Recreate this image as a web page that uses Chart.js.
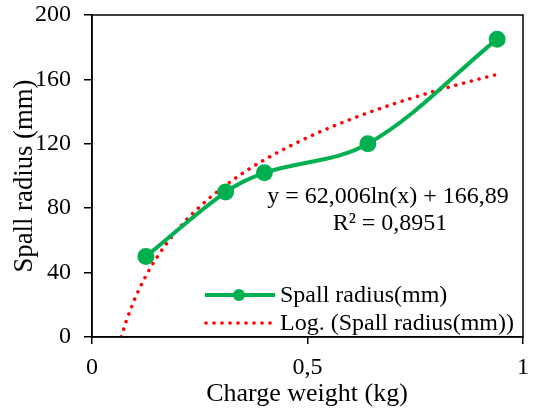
<!DOCTYPE html>
<html><head><meta charset="utf-8">
<script src="https://cdn.jsdelivr.net/npm/chart.js@4/dist/chart.umd.min.js"></script>
<style>html,body{margin:0;padding:0;background:#fff}#wrap{width:534px;height:411px}</style>
</head><body><div id="wrap"><canvas id="c" width="534" height="411"></canvas></div>
<script>
const chargeWeight = [0.125, 0.31, 0.40, 0.64, 0.94];
const spallRadius = [50, 90, 102, 120, 185];
const seriesName = 'Spall radius(mm)';
const trendName = 'Log. (Spall radius(mm))';
const trendCoef = [62.006, 166.89]; // y = a ln(x) + b
const trendEquation = 'y = 62,006ln(x) + 166,89';
const trendR2 = 'R² = 0,8951';
const trendX = [0.0678, 0.08, 0.1, 0.125, 0.15, 0.2, 0.25, 0.3, 0.35, 0.4, 0.5, 0.6, 0.7, 0.8, 0.9, 0.94];
const xTicks = [0, 0.5, 1];
const yTicks = [0, 40, 80, 120, 160, 200];
const xTitle = 'Charge weight (kg)';
const yTitle = 'Spall radius (mm)';

const FONT = "'Liberation Serif', 'Times New Roman', serif";
const trendData = trendX.map(x => ({x, y: Math.max(0, trendCoef[0]*Math.log(x) + trendCoef[1])}));
const mainData = chargeWeight.map((x,i)=>({x, y: spallRadius[i]}));

const overlay = {
  id: 'overlay',
  afterDraw(chart) {
    const ctx = chart.ctx, a = chart.chartArea;
    ctx.save();
    ctx.strokeStyle = '#000'; ctx.lineWidth = 1.5;
    ctx.strokeRect(a.left, a.top, a.right - a.left, a.bottom - a.top);
    ctx.fillStyle = '#000';
    // axis titles
    ctx.font = '26px ' + FONT;
    ctx.textAlign = 'center'; ctx.textBaseline = 'middle';
    ctx.fillText(xTitle, 307, 394);
    ctx.save();
    ctx.translate(25, 176);
    ctx.rotate(-Math.PI/2);
    ctx.font = '27px ' + FONT;
    const w = ctx.measureText(yTitle).width;
    ctx.scale(193 / w, 1);
    ctx.fillText(yTitle, 0, 0);
    ctx.restore();
    // equation
    ctx.font = '24px ' + FONT;
    ctx.fillText(trendEquation, 388, 197);
    ctx.fillText(trendR2, 390, 224);
    // legend
    ctx.textAlign = 'left';
    ctx.strokeStyle = '#00B050'; ctx.lineWidth = 4; ctx.lineCap = 'butt';
    ctx.beginPath(); ctx.moveTo(205, 295); ctx.lineTo(275, 295); ctx.stroke();
    ctx.fillStyle = '#00B050';
    ctx.beginPath(); ctx.arc(239, 295, 6, 0, Math.PI*2); ctx.fill();
    ctx.strokeStyle = '#FF0000'; ctx.lineWidth = 3.5; ctx.lineCap = 'round';
    ctx.setLineDash([0.1, 7.9]);
    ctx.beginPath(); ctx.moveTo(206, 323); ctx.lineTo(276, 323); ctx.stroke();
    ctx.setLineDash([]);
    ctx.fillStyle = '#000';
    ctx.fillText(seriesName, 280, 296);
    ctx.fillText(trendName, 280, 324);
    ctx.restore();
  }
};

new Chart(document.getElementById('c'), {
  type: 'scatter',
  data: { datasets: [
    { label: seriesName, data: mainData, showLine: true, borderColor: '#00B050', backgroundColor: '#00B050',
      borderWidth: 4, pointRadius: 6.5, pointHoverRadius: 6.5, tension: 0.35, order: 1 },
    { label: trendName, data: trendData, showLine: true, borderColor: '#FF0000', borderWidth: 3.5,
      borderDash: [0.1, 7.9], borderCapStyle: 'round', pointRadius: 0, cubicInterpolationMode: 'monotone', order: 2 }
  ]},
  options: {
    responsive: false, animation: false, devicePixelRatio: 1,
    layout: { padding: { left: 0, right: 11, top: 15, bottom: 0 } },
    plugins: { legend: { display: false }, tooltip: { enabled: false } },
    scales: {
      x: { type: 'linear', min: 0, max: 1,
        afterBuildTicks: s => { s.ticks = xTicks.map(v => ({value: v})); },
        afterFit: s => { s.height = 74; s.paddingLeft = 0; s.paddingRight = 0; },
        ticks: { color: '#000', font: { family: FONT, size: 24 }, padding: 9, maxRotation: 0,
          callback: v => String(v).replace('.', ',') },
        grid: { drawOnChartArea: false, drawTicks: true, tickLength: 7, color: '#000', lineWidth: 1.5 },
        border: { color: '#000', width: 1.5 }
      },
      y: { min: 0, max: 200,
        afterBuildTicks: s => { s.ticks = yTicks.map(v => ({value: v})); },
        afterFit: s => { s.width = 92; s.paddingTop = 0; s.paddingBottom = 0; },
        ticks: { color: '#000', font: { family: FONT, size: 24 }, padding: 13 },
        grid: { drawOnChartArea: false, drawTicks: true, tickLength: 8, color: '#000', lineWidth: 1.5 },
        border: { color: '#000', width: 1.5 }
      }
    }
  },
  plugins: [overlay]
});
</script></body></html>
